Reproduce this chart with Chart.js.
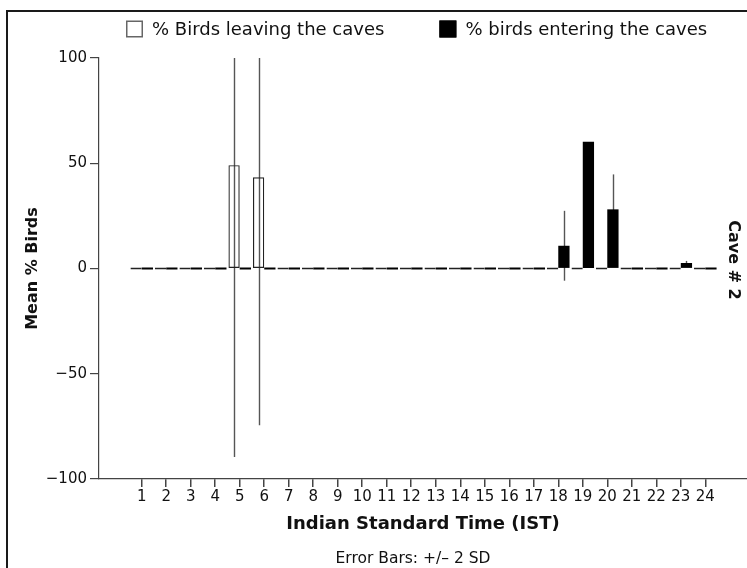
<!DOCTYPE html>
<html>
<head>
<meta charset="utf-8">
<title>Cave # 2 – hourly bird movement</title>
<script src="https://cdn.jsdelivr.net/npm/chart.js@4/dist/chart.umd.min.js"></script>
<style>
  html, body { margin: 0; padding: 0; background: #fff; overflow: hidden; }
  #wrap { width: 747px; height: 568px; position: relative; }
</style>
</head>
<body>
<div id="wrap"><canvas id="chart" width="747" height="568"></canvas></div>
<script>
// Hour of day (IST)
const HOURS = [1, 2, 3, 4, 5, 6, 7, 8, 9, 10, 11, 12, 13, 14, 15, 16, 17, 18, 19, 20, 21, 22, 23, 24];

// Mean % of birds leaving the cave, per hour
const LEAVING = [0, 0, 0, 0, 49.1, 43.3, 0, 0, 0, 0, 0, 0, 0, 0, 0, 0, 0, 0, 0, 0, 0, 0, 0, 0];
// 2 SD for the leaving series
const LEAVING_2SD = [0, 0, 0, 0, 138.6, 117.8, 0, 0, 0, 0, 0, 0, 0, 0, 0, 0, 0, 0, 0, 0, 0, 0, 0, 0];

// Mean % of birds entering the cave, per hour
const ENTERING = [0, 0, 0, 0, 0, 0, 0, 0, 0, 0, 0, 0, 0, 0, 0, 0, 0, 10.8, 60.2, 28.1, 0, 0, 2.6, 0];
// 2 SD for the entering series
const ENTERING_2SD = [0, 0, 0, 0, 0, 0, 0, 0, 0, 0, 0, 0, 0, 0, 0, 0, 0, 16.6, 0, 16.6, 0, 0, 1.0, 0];

const Y_TICKS = [-100, -50, 0, 50, 100];

const LABEL_LEAVING = '% Birds leaving the caves';
const LABEL_ENTERING = '% birds entering the caves';
const PANEL_LABEL = 'Cave # 2';
const FOOTNOTE = 'Error Bars: +/\u2013 2 SD';
const X_TITLE = 'Indian Standard Time (IST)';
const Y_TITLE = 'Mean % Birds';

const FONT = "'DejaVu Sans', 'Verdana', sans-serif";
const INK = '#111';
const AXIS = '#444';

Chart.defaults.font.family = FONT;
Chart.defaults.color = INK;

// Vertical ±2 SD whiskers, clipped to the plotting range.
// Drawn under the bars: visible through the hollow bars, hidden by the solid ones.
const errorBars = {
  id: 'errorBars',
  beforeDatasetsDraw(chart) {
    const { ctx } = chart;
    const y = chart.scales.y;
    ctx.save();
    ctx.strokeStyle = '#555';
    ctx.lineWidth = 1.4;
    chart.data.datasets.forEach((ds, i) => {
      const meta = chart.getDatasetMeta(i);
      meta.data.forEach((bar, j) => {
        const err = ds.errors[j];
        if (!err) return;
        const v = ds.data[j];
        const top = y.getPixelForValue(Math.min(v + err, y.max));
        const bot = y.getPixelForValue(Math.max(v - err, y.min));
        const x = Math.round(bar.x) + 0.5;
        ctx.beginPath();
        ctx.moveTo(x, top);
        ctx.lineTo(x, bot);
        ctx.stroke();
      });
    });
    ctx.restore();
  }
};

// Frame, legend, side label and footnote
const decorations = {
  id: 'decorations',
  beforeDraw(chart) {
    const { ctx, width, height } = chart;
    ctx.save();
    ctx.strokeStyle = '#1a1a1a';
    ctx.lineWidth = 2;
    ctx.beginPath();
    ctx.moveTo(7, height);
    ctx.lineTo(7, 11);
    ctx.lineTo(width, 11);
    ctx.stroke();
    ctx.restore();
  },
  afterDraw(chart) {
    const { ctx, chartArea } = chart;
    ctx.save();

    // legend
    const box = 17, textGap = 9, itemGap = 55, legendY = 29, legendCenter = 417;
    ctx.font = '18px ' + FONT;
    ctx.textBaseline = 'middle';
    ctx.textAlign = 'left';
    const items = chart.data.datasets.map(ds => ({ ds, w: ctx.measureText(ds.label).width }));
    const total = items.reduce((s, it) => s + box + textGap + it.w, 0) + itemGap * (items.length - 1);
    let x = Math.round(legendCenter - total / 2);
    items.forEach(({ ds, w }) => {
      const hollow = ds.borderWidth > 0;
      ctx.fillStyle = hollow ? '#ffffff' : '#000000';
      ctx.fillRect(x, legendY - box / 2, box, box);
      ctx.strokeStyle = hollow ? '#666' : '#000';
      ctx.lineWidth = 1.5;
      ctx.strokeRect(x + 0.75, legendY - box / 2 + 0.75, box - 1.5, box - 1.5);
      ctx.fillStyle = INK;
      ctx.fillText(ds.label, x + box + textGap, legendY + 1);
      x += box + textGap + w + itemGap;
    });

    // panel label on the right, reading downwards
    ctx.translate(chartArea.right - 14, 260);
    ctx.rotate(Math.PI / 2);
    ctx.font = 'bold 16px ' + FONT;
    ctx.textAlign = 'center';
    ctx.fillStyle = INK;
    ctx.fillText(PANEL_LABEL, 0, 0);
    ctx.restore();

    // footnote
    ctx.save();
    ctx.font = '15.5px ' + FONT;
    ctx.textAlign = 'center';
    ctx.textBaseline = 'middle';
    ctx.fillStyle = INK;
    ctx.fillText(FOOTNOTE, 413, 559);
    ctx.restore();
  }
};

new Chart(document.getElementById('chart'), {
  type: 'bar',
  data: {
    labels: HOURS,
    datasets: [
      {
        label: LABEL_LEAVING,
        data: LEAVING,
        errors: LEAVING_2SD,
        backgroundColor: 'rgba(255,255,255,0)',
        borderColor: '#222',
        borderWidth: 1.2,
        borderSkipped: false,
        minBarLength: 2
      },
      {
        label: LABEL_ENTERING,
        data: ENTERING,
        errors: ENTERING_2SD,
        backgroundColor: '#000000',
        borderWidth: 0,
        minBarLength: 2
      }
    ]
  },
  options: {
    responsive: false,
    animation: false,
    events: [],
    categoryPercentage: 0.92,
    barPercentage: 1,
    layout: { padding: { left: 15, top: 58, right: 0, bottom: 0 } },
    plugins: {
      legend: { display: false },
      tooltip: { enabled: false }
    },
    scales: {
      x: {
        type: 'linear',
        offset: false,
        min: -0.7426,
        max: 25.702,
        afterBuildTicks: s => { s.ticks = HOURS.map(h => ({ value: h })); },
        afterFit: s => { s.height = 89; },
        grid: { offset: false, drawOnChartArea: false, drawTicks: true, tickLength: 8, color: AXIS, lineWidth: 1.5 },
        border: { color: AXIS, width: 1.2 },
        ticks: { autoSkip: false, maxRotation: 0, padding: 1, font: { size: 15 }, color: INK },
        title: {
          display: true,
          text: X_TITLE,
          font: { size: 18, weight: 'bold' },
          color: INK,
          padding: { top: 0, bottom: 33 }
        }
      },
      y: {
        min: -100,
        max: 100,
        afterBuildTicks: s => { s.ticks = Y_TICKS.map(v => ({ value: v })); },
        afterFit: s => { s.width = 84; },
        grid: { drawOnChartArea: false, drawTicks: true, tickLength: 9, color: AXIS, lineWidth: 1.2 },
        border: { color: AXIS, width: 1.2 },
        ticks: {
          padding: 3,
          font: { size: 15 },
          color: INK,
          callback: v => String(v).replace('-', '\u2212')
        },
        title: {
          display: true,
          text: Y_TITLE,
          font: { size: 16, weight: 'bold' },
          color: INK,
          padding: { top: 8, bottom: 0 }
        }
      }
    }
  },
  plugins: [errorBars, decorations]
});
</script>
</body>
</html>
